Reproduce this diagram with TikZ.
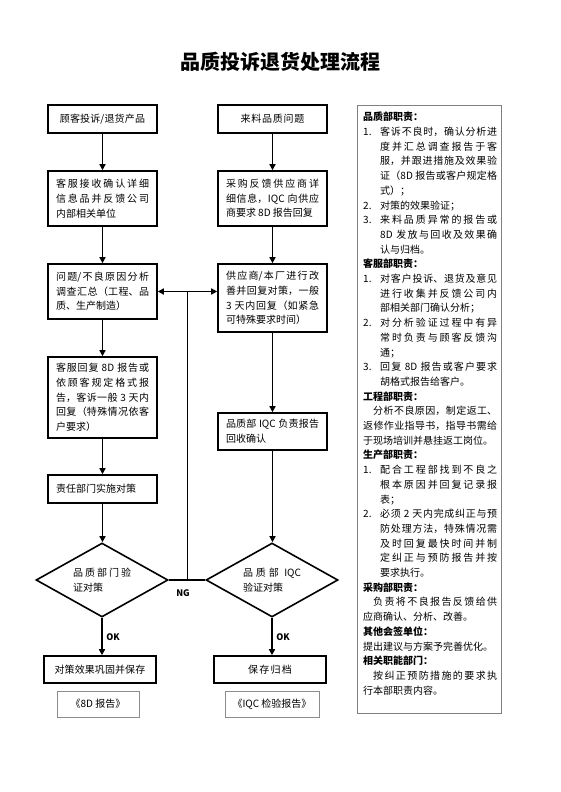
\documentclass[tikz,border=0pt]{standalone}
\usepackage{fontspec}
\setmainfont{Noto Sans CJK SC}
\usetikzlibrary{shapes.geometric,arrows.meta,calc}
\XeTeXlinebreaklocale "zh"
\XeTeXlinebreakskip=0pt plus 1pt
\newcommand\dutyitem[1]{\hangindent=17pt\hangafter=1\noindent\makebox[17pt][l]{#1}}
\begin{document}
\begin{tikzpicture}[x=1pt,y=-1pt,
  txt/.style={font=\fontsize{10}{14.7}\selectfont},
  box/.style={txt, draw, line width=1.6pt, inner xsep=8pt, inner ysep=0pt, text width=93pt, align=justify},
  cbox/.style={box, align=center},
  dia/.style={txt, draw, line width=1.6pt, diamond, aspect=1.78, inner sep=0pt, minimum width=132pt, minimum height=74pt, text width=58pt, align=justify},
  rep/.style={txt, draw=black!45, line width=0.8pt, minimum height=26pt, inner sep=0pt},
  lab/.style={font=\fontsize{9}{10}\selectfont\bfseries, inner sep=0pt},
  ln/.style={line width=1.6pt},
  arr/.style={ln, -{Triangle[length=6pt,width=6pt]}},
  dbl/.style={ln, {Triangle[length=6pt,width=6pt]}-{Triangle[length=6pt,width=6pt]}}
]
\useasboundingbox (0,0) rectangle (560,792);
\fill[white] (0,0) rectangle (560,792);
\node[font=\fontsize{20}{24}\selectfont\bfseries] (title) at (280,62) {品质投诉退货处理流程};
% left column
\node[cbox, minimum height=28pt] (b1) at (102.5,119) {顾客投诉/退货产品};
\node[box, minimum height=55pt] (b2) at (102.5,198.5) {客服接收确认详细\linebreak 信息品并反馈公司\linebreak 内部相关单位};
\node[box, minimum height=55pt] (b3) at (102.5,291.5) {问题/不良原因分析\linebreak 调查汇总（工程、品\linebreak 质、生产制造）};
\node[box, minimum height=81pt] (b4) at (102.5,397.5) {客服回复 8D 报告或\linebreak 依顾客规定格式报\linebreak 告，客诉一般 3 天内\linebreak 回复（特殊情况依客\linebreak 户要求）};
\node[box, minimum height=28pt] (b5) at (102.5,489) {责任部门实施对策};
\node[dia] (dl) at (102,580) {品质部门验\linebreak 证对策};
\node[cbox, minimum height=27pt, text width=94pt, inner xsep=9pt] (b6) at (100,669.5) {对策效果巩固并保存};
\node[rep, minimum width=82pt] (rep1) at (98,704) {《8D 报告》};
% right column
\node[cbox, minimum height=28pt] (c1) at (272.5,119) {来料品质问题};
\node[box, minimum height=55pt] (c2) at (272.5,198.5) {采购反馈供应商详\linebreak 细信息，IQC 向供应\linebreak 商要求 8D 报告回复};
\node[box, minimum height=68pt] (c3) at (272.5,298) {供应商/本厂进行改\linebreak 善并回复对策，一般\linebreak 3 天内回复（如紧急\linebreak 可特殊要求时间）};
\node[box, minimum height=37pt] (c4) at (272.5,431.5) {品质部 IQC 负责报告\linebreak 回收确认};
\node[dia] (dr) at (272,580) {品质部 IQC\linebreak 验证对策};
\node[cbox, minimum height=27pt, text width=94pt, inner xsep=9pt] (c6) at (270,669.5) {保存归档};
\node[rep, minimum width=94pt] (rep2) at (272,704) {《IQC 检验报告》};
% connectors
\draw[arr] (b1) -- (b2);
\draw[arr] (b2) -- (b3);
\draw[arr] (b3) -- (b4);
\draw[arr] (b4) -- (b5);
\draw[arr] (b5.south) -- (b5.south |- dl.north);
\draw[arr] (dl.south) -- (dl.south |- b6.north);
\draw[arr] (c1) -- (c2);
\draw[arr] (c2.south) -- (c2.south |- c3.north);
\draw[arr] (c3.south) -- (c3.south |- c4.north);
\draw[arr] (c4.south) -- (c4.south |- dr.north);
\draw[arr] (dr.south) -- (dr.south |- c6.north);
\coordinate (ng) at (187.5,291.5);
\draw[dbl] (b3.east) -- (b3.east -| c3.west);
\draw[ln] (dl.east) -- (dr.west);
\draw[ln] (ng |- dl.east) -- (ng);
\node[lab] (nglab) at (183,593) {NG};
\node[lab] (ok1) at (113,637) {OK};
\node[lab] (ok2) at (283,637) {OK};
% duties panel
\node[draw=black!50, line width=1pt, minimum width=144pt, minimum height=608pt, inner sep=0pt] (panel) at (429,409) {};
\node[txt, anchor=north west, inner sep=0pt, text width=134pt, align=justify] (duties) at (363,112) {%
{\bfseries 品质部职责：}\par
\dutyitem{1.}客诉不良时，确认分析进\linebreak 度并汇总调查报告于客\linebreak 服，并跟进措施及效果验\linebreak 证（8D 报告或客户规定格\linebreak 式）；\par
\dutyitem{2.}对策的效果验证；\par
\dutyitem{3.}来料品质异常的报告或\linebreak 8D 发放与回收及效果确\linebreak 认与归档。\par
{\bfseries 客服部职责：}\par
\dutyitem{1.}对客户投诉、退货及意见\linebreak 进行收集并反馈公司内\linebreak 部相关部门确认分析；\par
\dutyitem{2.}对分析验证过程中有异\linebreak 常时负责与顾客反馈沟\linebreak 通；\par
\dutyitem{3.}回复 8D 报告或客户要求\linebreak 胡格式报告给客户。\par
{\bfseries 工程部职责：}\par
\hspace*{10pt}分析不良原因，制定返工、\linebreak 返修作业指导书，指导书需给\linebreak 于现场培训并悬挂返工岗位。\par
{\bfseries 生产部职责：}\par
\dutyitem{1.}配合工程部找到不良之\linebreak 根本原因并回复记录报\linebreak 表；\par
\dutyitem{2.}必须 2 天内完成纠正与预\linebreak 防处理方法，特殊情况需\linebreak 及时回复最快时间并制\linebreak 定纠正与预防报告并按\linebreak 要求执行。\par
{\bfseries 采购部职责：}\par
\hspace*{10pt}负责将不良报告反馈给供\linebreak 应商确认、分析、改善。\par
{\bfseries 其他会签单位：}\par
提出建议与方案予完善优化。\par
{\bfseries 相关职能部门：}\par
\hspace*{10pt}按纠正预防措施的要求执\linebreak 行本部职责内容。};
\end{tikzpicture}
\end{document}
